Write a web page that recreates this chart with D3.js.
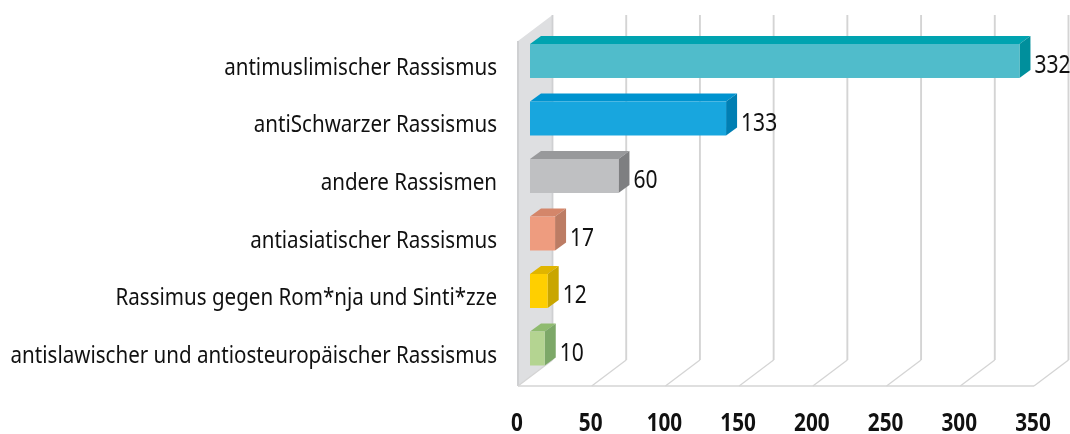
<!DOCTYPE html>
<html><head><meta charset="utf-8">
<script src="https://cdn.jsdelivr.net/npm/d3@7"></script>
<style>
html,body{margin:0;padding:0;background:#fff}
svg{display:block;filter:blur(0.35px)}
text{font-family:"Noto Sans",sans-serif;fill:#111}
.cat{font-size:23px}
.val{font-size:24.5px}
.tick{font-size:25px;font-weight:bold}
</style></head><body>
<svg id="c" width="1070" height="434"></svg>
<script>
const categories=["antimuslimischer Rassismus","antiSchwarzer Rassismus","andere Rassismen","antiasiatischer Rassismus","Rassimus gegen Rom*nja und Sinti*zze","antislawischer und antiosteuropäischer Rassismus"];
const values=[332,133,60,17,12,10];
const frontColors=["#50bccb","#18a6de","#bfc0c2","#ee9c7f","#ffcf00","#b4d491"];
const topColors=["#00a3b0","#0093cf","#98999b","#d4866a","#e0b500","#8fbb6f"];
const sideColors=["#008f9c","#007fb3","#7e7f81","#bc7c64","#c9a600","#7da868"];
const tickValues=[0,50,100,150,200,250,300,350];

const svg=d3.select("#c");
const x=d3.scaleLinear().domain([0,350]).range([518,1034]);
const y=d3.scaleBand().domain(categories).range([44,365.5]).paddingInner(0.409).paddingOuter(0);
const floorY=386, depthX=34.5, depthY=26, topY=15;
const barOffset=12, barDX=11, barDY=8;
const grid="#d4d4d4";
const sxCat=0.895, sxVal=0.86, sxTick=0.83;

svg.append("polygon").attr("fill","#dedfe1")
  .attr("points",[[x(0),floorY],[x(0),topY+depthY],[x(0)+depthX,topY],[x(0)+depthX,floorY-depthY]].join(" "));
svg.append("line").attr("x1",x(0)).attr("x2",x(0)).attr("y1",topY+depthY).attr("y2",floorY).attr("stroke","#cfd0d2").attr("stroke-width",2);
svg.append("line").attr("x1",x(0)+depthX).attr("x2",x(0)+depthX).attr("y1",topY).attr("y2",floorY-depthY).attr("stroke","#cfd0d2").attr("stroke-width",1.8);

svg.append("g").selectAll("line").data(tickValues.slice(1)).join("line")
  .attr("stroke",grid).attr("stroke-width",1.9)
  .attr("x1",d=>x(d)+depthX).attr("x2",d=>x(d)+depthX).attr("y1",topY).attr("y2",floorY-depthY);
svg.append("g").selectAll("line").data(tickValues).join("line")
  .attr("stroke",grid).attr("stroke-width",1.3)
  .attr("x1",d=>x(d)).attr("x2",d=>x(d)+depthX).attr("y1",floorY).attr("y2",floorY-depthY);
svg.append("line").attr("x1",x(0)).attr("x2",x(350)).attr("y1",floorY).attr("y2",floorY).attr("stroke",grid).attr("stroke-width",1.5);

const bars=svg.append("g").selectAll("g").data(categories).join("g");
bars.each(function(c,i){
  const g=d3.select(this), x0=x(0)+barOffset, x1=x(values[i])+barOffset, t=y(c), b=t+y.bandwidth(), mid=(t+b)/2;
  g.append("polygon").attr("fill",topColors[i]).attr("points",[[x0,t],[x0+barDX,t-barDY],[x1+barDX,t-barDY],[x1,t]].join(" "));
  g.append("polygon").attr("fill",sideColors[i]).attr("points",[[x1,t],[x1+barDX,t-barDY],[x1+barDX,b-barDY],[x1,b]].join(" "));
  g.append("rect").attr("fill",frontColors[i]).attr("x",x0).attr("y",t).attr("width",x1-x0).attr("height",b-t);
  g.append("text").attr("class","val").attr("transform",`translate(${x1+barDX+4},${mid+12.3}) scale(${sxVal},1)`).text(values[i]);
  g.append("text").attr("class","cat").attr("transform",`translate(497,${mid+14}) scale(${sxCat},1)`).attr("text-anchor","end").text(c);
});

svg.append("g").selectAll("text").data(tickValues).join("text").attr("class","tick")
  .attr("transform",d=>`translate(${x(d)-1},431) scale(${sxTick},1)`).attr("text-anchor","middle").text(d=>d);
</script>
</body></html>
